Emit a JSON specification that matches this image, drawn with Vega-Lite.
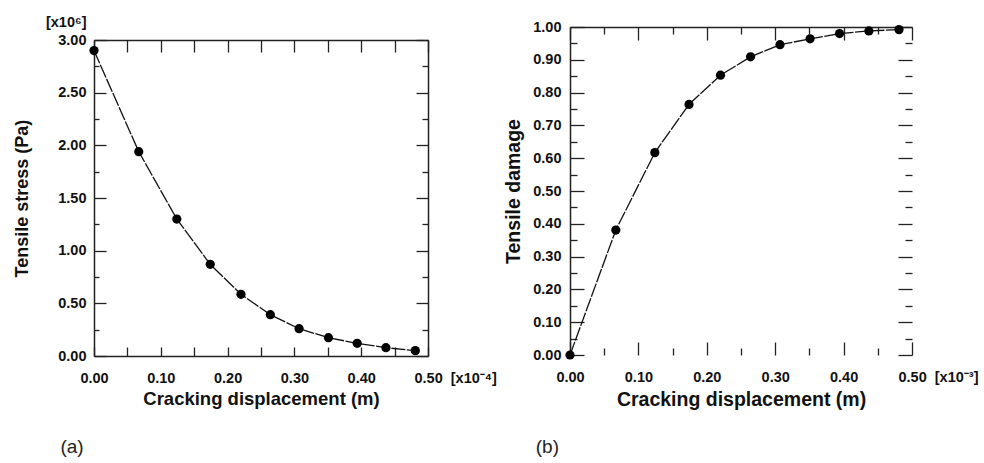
{
  "$schema": "https://vega.github.io/schema/vega-lite/v6.json",
  "background": "white",
  "padding": {"left": 13, "top": 14, "right": 5, "bottom": 5},
  "spacing": 6,
  "config": {
    "font": "Liberation Sans",
    "view": {"stroke": null},
    "axis": {
      "labelFont": "Liberation Sans", "labelFontWeight": "bold", "labelFontSize": 14.5, "labelColor": "#111",
      "titleFont": "Liberation Sans", "titleFontWeight": "bold", "titleFontSize": 18, "titleColor": "#111",
      "domainColor": "#222", "domainWidth": 1.5, "tickColor": "#222", "tickWidth": 1.3,
      "grid": false, "labelOverlap": false, "labelFlush": false
    },
    "title": {"font": "Liberation Sans", "fontWeight": "normal", "fontSize": 19, "color": "#222"}
  },
  "datasets": {
    "stress": [
      {"d": 0.0, "s": 2.90}, {"d": 0.067, "s": 1.94}, {"d": 0.124, "s": 1.30}, {"d": 0.174, "s": 0.87},
      {"d": 0.220, "s": 0.586}, {"d": 0.264, "s": 0.392}, {"d": 0.307, "s": 0.259}, {"d": 0.351, "s": 0.174},
      {"d": 0.394, "s": 0.120}, {"d": 0.437, "s": 0.079}, {"d": 0.481, "s": 0.051}
    ],
    "damage": [
      {"d": 0.0, "t": 0.0}, {"d": 0.067, "t": 0.381}, {"d": 0.124, "t": 0.617}, {"d": 0.174, "t": 0.764},
      {"d": 0.220, "t": 0.853}, {"d": 0.264, "t": 0.909}, {"d": 0.307, "t": 0.946}, {"d": 0.351, "t": 0.964},
      {"d": 0.394, "t": 0.980}, {"d": 0.437, "t": 0.988}, {"d": 0.481, "t": 0.992}
    ]
  },
  "hconcat": [
    {
      "width": 334, "height": 329,
      "title": {"text": "(a)", "orient": "bottom", "anchor": "start", "frame": "bounds", "offset": 30, "dx": 47},
      "data": {"name": "stress"},
      "layer": [
        {
          "mark": {"type": "line", "color": "#111", "strokeWidth": 1.3, "strokeDash": [14, 1.5]},
          "encoding": {
            "x": {"field": "d", "type": "quantitative", "scale": {"domain": [0, 0.5], "nice": false},
              "axis": {"orient": "bottom", "title": "Cracking displacement (m)", "titleFontSize": 18.5,
                "values": [0, 0.05, 0.1, 0.15, 0.2, 0.25, 0.3, 0.35, 0.4, 0.45, 0.5],
                "labelExpr": "abs(datum.value*10-round(datum.value*10))<0.001 ? (datum.value>0.49 ? '0.50\u00a0\u00a0[x10⁻⁴]' : format(datum.value,'.2f')) : ''",
                "labelAlign": {"condition": {"test": "datum.value > 0.49", "value": "left"}, "value": "center"},
                "labelOffset": {"condition": {"test": "datum.value > 0.49", "value": -14}, "value": 0},
                "tickSize": -9, "labelPadding": 24, "titlePadding": 5}},
            "y": {"field": "s", "type": "quantitative", "scale": {"domain": [0, 3], "nice": false, "range": [329, 13]},
              "axis": {"orient": "left", "title": "Tensile stress (Pa)",
                "values": [0, 0.25, 0.5, 0.75, 1, 1.25, 1.5, 1.75, 2, 2.25, 2.5, 2.75, 3],
                "labelExpr": "datum.value == 3 ? ['[x10⁶]\u00a0', '3.00'] : (datum.value % 0.5 == 0 ? format(datum.value, '.2f') : '')",
                "labelLineHeight": 18,
                "labelOffset": {"condition": {"test": "datum.value == 3", "value": -18}, "value": 0},
                "tickSize": {"condition": {"test": "datum.value % 0.5 == 0", "value": -12}, "value": -5},
                "labelPadding": 20, "titlePadding": 14}}
          }
        },
        {
          "mark": {"type": "point", "filled": true, "color": "#000", "size": 85, "opacity": 1, "strokeWidth": 0},
          "encoding": {
            "x": {"field": "d", "type": "quantitative", "scale": {"domain": [0, 0.5], "nice": false},
              "axis": {"orient": "top", "title": null, "labels": false, "offset": -13,
                "values": [0, 0.05, 0.1, 0.15, 0.2, 0.25, 0.3, 0.35, 0.4, 0.45, 0.5], "tickSize": -12}},
            "y": {"field": "s", "type": "quantitative", "scale": {"domain": [0, 3], "nice": false, "range": [329, 13]},
              "axis": {"orient": "right", "title": null, "labels": false,
                "values": [0, 0.25, 0.5, 0.75, 1, 1.25, 1.5, 1.75, 2, 2.25, 2.5, 2.75, 3],
                "tickSize": {"condition": {"test": "datum.value % 0.5 == 0", "value": -12}, "value": -6}}}
          }
        }
      ],
      "resolve": {"axis": {"x": "independent", "y": "independent"}}
    },
    {
      "width": 342, "height": 328,
      "title": {"text": "(b)", "orient": "bottom", "anchor": "start", "frame": "bounds", "offset": 29, "dx": 32},
      "data": {"name": "damage"},
      "layer": [
        {
          "mark": {"type": "line", "color": "#111", "strokeWidth": 1.3, "strokeDash": [14, 1.5]},
          "encoding": {
            "x": {"field": "d", "type": "quantitative", "scale": {"domain": [0, 0.5], "nice": false},
              "axis": {"orient": "bottom", "title": "Cracking displacement (m)", "titleFontSize": 19.5, "domain": false,
                "values": [0, 0.05, 0.1, 0.15, 0.2, 0.25, 0.3, 0.35, 0.4, 0.45, 0.5],
                "labelExpr": "abs(datum.value*10-round(datum.value*10))<0.001 ? (datum.value>0.49 ? '0.50\u00a0\u00a0[x10⁻³]' : format(datum.value,'.2f')) : ''",
                "labelAlign": {"condition": {"test": "datum.value > 0.49", "value": "left"}, "value": "center"},
                "labelOffset": {"condition": {"test": "datum.value > 0.49", "value": -14}, "value": 0},
                "tickSize": {"condition": {"test": "abs(datum.value*10-round(datum.value*10))<0.001", "value": -13}, "value": -7},
                "labelPadding": 28, "titlePadding": 1}},
            "y": {"field": "t", "type": "quantitative", "scale": {"domain": [0, 1], "nice": false},
              "axis": {"orient": "left", "title": "Tensile damage", "titleFontSize": 19.5,
                "values": [0, 0.05, 0.1, 0.15, 0.2, 0.25, 0.3, 0.35, 0.4, 0.45, 0.5, 0.55, 0.6, 0.65, 0.7, 0.75, 0.8, 0.85, 0.9, 0.95, 1],
                "labelExpr": "abs(datum.value*10-round(datum.value*10))<0.001 ? format(datum.value, '.2f') : ''",
                "tickSize": {"condition": {"test": "abs(datum.value*10-round(datum.value*10))<0.001", "value": -14}, "value": -7},
                "labelPadding": 23, "titlePadding": 9}}
          }
        },
        {
          "mark": {"type": "point", "filled": true, "color": "#000", "size": 85, "opacity": 1, "strokeWidth": 0},
          "encoding": {
            "x": {"field": "d", "type": "quantitative", "scale": {"domain": [0, 0.5], "nice": false},
              "axis": {"orient": "top", "title": null, "labels": false,
                "values": [0, 0.05, 0.1, 0.15, 0.2, 0.25, 0.3, 0.35, 0.4, 0.45, 0.5],
                "tickSize": {"condition": {"test": "abs(datum.value*10-round(datum.value*10))<0.001", "value": -13}, "value": -7}}},
            "y": {"field": "t", "type": "quantitative", "scale": {"domain": [0, 1], "nice": false},
              "axis": {"orient": "right", "title": null, "labels": false, "domain": false,
                "values": [0, 0.05, 0.1, 0.15, 0.2, 0.25, 0.3, 0.35, 0.4, 0.45, 0.5, 0.55, 0.6, 0.65, 0.7, 0.75, 0.8, 0.85, 0.9, 0.95, 1],
                "tickSize": {"condition": {"test": "abs(datum.value*10-round(datum.value*10))<0.001", "value": -14}, "value": -7}}}
          }
        }
      ],
      "resolve": {"axis": {"x": "independent", "y": "independent"}}
    }
  ]
}
